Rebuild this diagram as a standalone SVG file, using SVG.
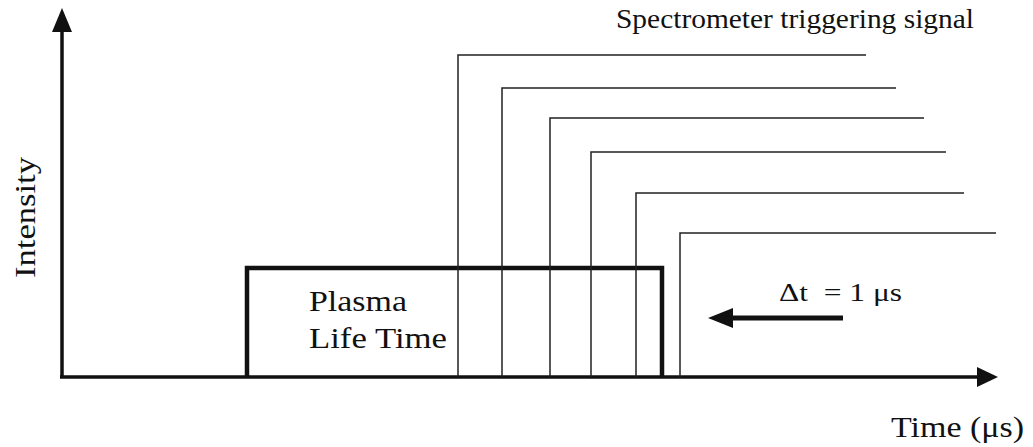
<svg xmlns="http://www.w3.org/2000/svg" width="1033" height="447" viewBox="0 0 1033 447">
  <style>
    .axis { stroke: #111; stroke-width: 3.5; fill: none; }
    .pulse { stroke: #111; stroke-width: 4.5; fill: none; stroke-linejoin: miter; }
    .trig { stroke: #222; stroke-width: 1.5; fill: none; }
    .head { fill: #111; }
  </style>
  <rect width="1033" height="447" fill="#fff"/>

  <!-- axes -->
  <g id="axes">
    <path class="axis" d="M62,378 V28"/>
    <polygon class="head" points="62,8 52,32 72,32"/>
    <path class="axis" d="M60,377 H980"/>
    <polygon class="head" points="998,377 977,367 977,387"/>
    <text font-family="Liberation Serif, serif" fill="#111" font-size="30" transform="translate(35,278) rotate(-90)" textLength="121" lengthAdjust="spacingAndGlyphs">Intensity</text>
    <text font-family="Liberation Serif, serif" fill="#111" font-size="29" x="891" y="437" textLength="133" lengthAdjust="spacingAndGlyphs">Time (μs)</text>
  </g>

  <!-- plasma emission window -->
  <g id="plasma">
    <path class="pulse" d="M247,378 V268 H662 V378"/>
    <text font-family="Liberation Serif, serif" fill="#111" font-size="29" x="309" y="311" textLength="98" lengthAdjust="spacingAndGlyphs">Plasma</text>
    <text font-family="Liberation Serif, serif" fill="#111" font-size="29" x="309" y="348" textLength="138" lengthAdjust="spacingAndGlyphs">Life Time</text>
  </g>

  <!-- spectrometer trigger steps -->
  <g id="triggers">
    <path class="trig" d="M458,377 V55 H866"/>
    <path class="trig" d="M502,377 V88 H896"/>
    <path class="trig" d="M550,377 V118 H924"/>
    <path class="trig" d="M591,377 V152 H946"/>
    <path class="trig" d="M636,377 V193 H964"/>
    <path class="trig" d="M680,377 V233 H996"/>
    <text font-family="Liberation Serif, serif" fill="#111" font-size="27" x="616" y="28" textLength="358" lengthAdjust="spacingAndGlyphs">Spectrometer triggering signal</text>
  </g>

  <!-- delay step -->
  <g id="delay">
    <path d="M843,318 H728" stroke="#111" stroke-width="5" fill="none"/>
    <polygon class="head" points="708,318 733,308 733,328"/>
    <text font-family="Liberation Serif, serif" fill="#111" font-size="26" x="779" y="301" xml:space="preserve" textLength="123" lengthAdjust="spacingAndGlyphs">Δt  = 1 μs</text>
  </g>
</svg>
